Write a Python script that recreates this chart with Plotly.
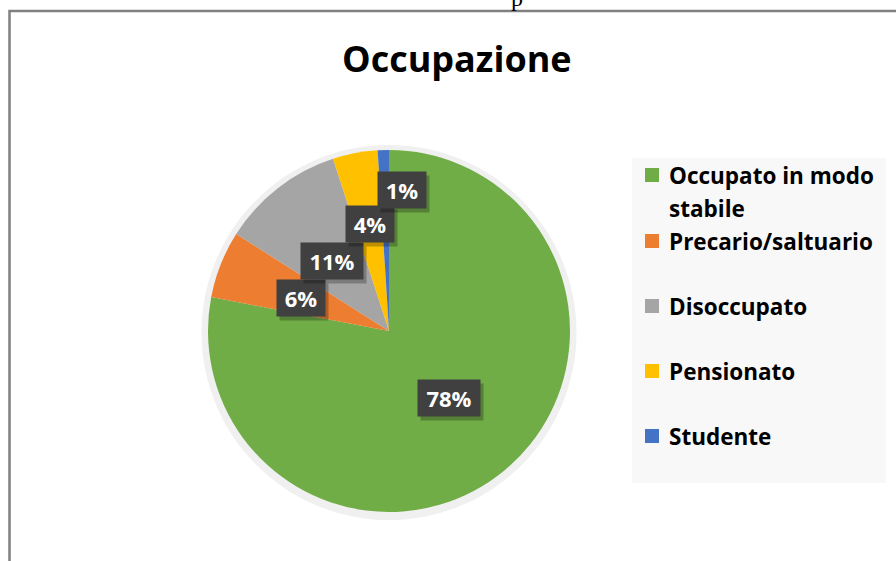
import textwrap
import math
import plotly.graph_objects as go

# ---- data ----
categories = ["Occupato in modo stabile", "Precario/saltuario", "Disoccupato", "Pensionato", "Studente"]
values = [78, 6, 11, 4, 1]
label_texts = ["78%", "6%", "11%", "4%", "1%"]
colors = ["#70AD47", "#ED7D31", "#A5A5A5", "#FFC000", "#4472C4"]
title_text = "Occupazione"

# ---- layout helpers (pixels) ----
W, H = 896, 561
def px(x):
    return x / W
def py(y):
    return 1 - y / H

cx, cy, R = 389, 331, 181  # pie centre / radius in pixels
# label nudges (pixels) applied to the mid-angle positions (Excel "best fit")
xshift = [2, -4, -2, -2, 16]
yshift = [3, 0, -2, 18, 51]
box_w = [52, 38, 52, 38, 38]

fig = go.Figure()

# soft shadow behind the pie
fig.add_trace(go.Pie(
    values=[1], marker=dict(colors=["#f0f0f0"], line=dict(width=0)),
    textinfo="none", hoverinfo="skip", showlegend=False, sort=False,
    domain=dict(x=[px(cx - R - 7), px(cx + R + 7)], y=[py(cy + R + 8), py(cy - R - 5)]),
))
fig.add_trace(go.Pie(
    labels=categories, values=values, sort=False, direction="clockwise", rotation=0,
    marker=dict(colors=colors, line=dict(width=0)),
    textinfo="none", showlegend=False,
    domain=dict(x=[px(cx - R), px(cx + R)], y=[py(cy + R), py(cy - R)]),
))

annotations = []
shapes = []

# data labels (dark boxes) computed from slice mid-angles
total = sum(values)
cum = 0
for i, v in enumerate(values):
    mid = (cum + v / 2) / total * 2 * math.pi
    cum += v
    lx = cx + math.sin(mid) * R * 0.5 + xshift[i]
    ly = cy - math.cos(mid) * R * 0.5 - yshift[i]
    # drop shadow of the label box
    annotations.append(dict(
        x=px(lx + 3), y=py(ly + 4), xref="paper", yref="paper", text="&nbsp;",
        xanchor="center", yanchor="middle",
        showarrow=False, bgcolor="rgba(0,0,0,0.25)", borderpad=5, width=box_w[i], height=26,
        font=dict(family="Open Sans", size=22, color="rgba(0,0,0,0)"),
    ))
    annotations.append(dict(
        x=px(lx), y=py(ly), xref="paper", yref="paper", text="<b>%s</b>" % label_texts[i],
        xanchor="center", yanchor="middle",
        showarrow=False, bgcolor="#404040", borderpad=5, width=box_w[i], height=26,
        font=dict(family="Open Sans", size=22, color="white"),
    ))

# title
annotations.append(dict(
    x=px(457), y=py(58), xref="paper", yref="paper", text="<b>%s</b>" % title_text,
    xanchor="center", yanchor="middle",
    showarrow=False, font=dict(family="Open Sans", size=36, color="black"),
))

# partial text cut off at the top of the page
annotations.append(dict(
    x=px(517), y=py(13), xref="paper", yref="paper", text="p", showarrow=False,
    xanchor="center", yanchor="bottom",
    font=dict(family="Liberation Serif", size=24, color="black"),
))

# legend box
shapes.append(dict(type="rect", xref="paper", yref="paper",
                   x0=px(632), x1=px(886), y0=py(483), y1=py(158),
                   fillcolor="#f8f8f8", line=dict(width=0), layer="below"))
item_y = [175, 241, 306, 371, 436]
for i, cat in enumerate(categories):
    yy = item_y[i]
    shapes.append(dict(type="rect", xref="paper", yref="paper",
                       x0=px(645), x1=px(659), y0=py(yy + 7), y1=py(yy - 7),
                       fillcolor=colors[i], line=dict(width=0)))
    for j, line in enumerate(textwrap.wrap(cat, 18)):
        annotations.append(dict(
            x=px(667), y=py(yy + j * 33), xref="paper", yref="paper",
            text="<b>%s</b>" % line, showarrow=False, xanchor="left", yanchor="middle",
            font=dict(family="Open Sans", size=22.5, color="black"),
        ))

# outer frame
shapes.append(dict(type="rect", xref="paper", yref="paper",
                   x0=px(9.5), x1=1.2, y0=-0.2, y1=py(11),
                   line=dict(color="#808080", width=2.5), fillcolor="rgba(0,0,0,0)"))

fig.update_layout(
    width=W, height=H, margin=dict(l=0, r=0, t=0, b=0),
    paper_bgcolor="white", plot_bgcolor="white",
    annotations=annotations, shapes=shapes, showlegend=False,
)
fig.write_html("out.html", config={"displayModeBar": False},
               post_script="document.body.style.margin='0';document.body.style.overflow='hidden';")
